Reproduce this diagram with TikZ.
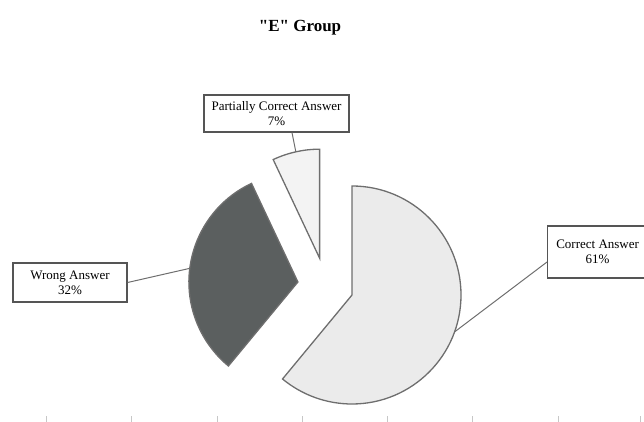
\documentclass[tikz,border=0pt]{standalone}
\usepackage{fontspec}
\setmainfont{Liberation Serif}
\newfontfamily\titlefont{Liberation Serif}[Ligatures=TeXOff]
\usepackage{tikz}
\usetikzlibrary{
    positioning,           % Relative positioning
    arrows.meta            % Modern arrow tips
}
\definecolor{sliceline}{HTML}{6E6E6E}
\definecolor{boxline}{HTML}{555555}
\definecolor{corfill}{HTML}{EBEBEB}
\definecolor{parfill}{HTML}{F3F3F3}
\definecolor{wrofill}{HTML}{5B5F5F}

\begin{document}
\begin{tikzpicture}[x=1pt, y=1pt,
    slice/.style={draw=sliceline, line width=1.3pt, line join=miter},
    labelbox/.style={draw=boxline, line width=1.2pt, fill=white, align=center,
        font=\fontsize{13}{15}\selectfont, inner sep=1pt},
    leader/.style={draw=sliceline, line width=1pt},
    axistick/.style={draw=black!22, line width=0.8pt}]
    \useasboundingbox (0,0) rectangle (644,422);
    \clip (0,0) rectangle (644,422);
    % Title
    \node[font=\titlefont\bfseries\fontsize{17}{20}\selectfont] (title) at (300,394) {"E" Group};
    % Exploded pie: 61% / 32% / 7%, radius 109
    \coordinate (cor) at (352,127);
    \coordinate (wro) at (297.9,140);
    \coordinate (par) at (319.6,163.8);
    \draw[slice, fill=corfill] (cor) -- ++(90:109) arc[start angle=90, end angle=-129.6, radius=109] -- cycle;
    \draw[slice, fill=wrofill] (wro) -- ++(115.2:109) arc[start angle=115.2, end angle=230.4, radius=109] -- cycle;
    \draw[slice, fill=parfill] (par) -- ++(90:109) arc[start angle=90, end angle=115.2, radius=109] -- cycle;
    % Labels
    \node[labelbox, minimum width=145, minimum height=37] (parbox) at (276.5,308.5) {Partially Correct Answer\\7\%};
    \node[labelbox, minimum width=114, minimum height=39] (wrobox) at (70,139.5) {Wrong Answer\\32\%};
    \node[labelbox, minimum width=100, minimum height=52, anchor=west] (corbox) at (547,170) {Correct Answer\\61\%};
    % Leader lines
    \draw[leader] ([shift={(102.6:109)}]par) -- ([xshift=15.5pt]parbox.south);
    \draw[leader] ([shift={(172.8:109)}]wro) -- (wrobox.east);
    \draw[leader] ([shift={(-19.8:109)}]cor) -- ([yshift=-10pt]corbox.west);
    % Axis ticks
    \foreach \x in {46,131,217,302,387,472,558,640}
        \draw[axistick] (\x,0) -- (\x,6);
\end{tikzpicture}
\end{document}
